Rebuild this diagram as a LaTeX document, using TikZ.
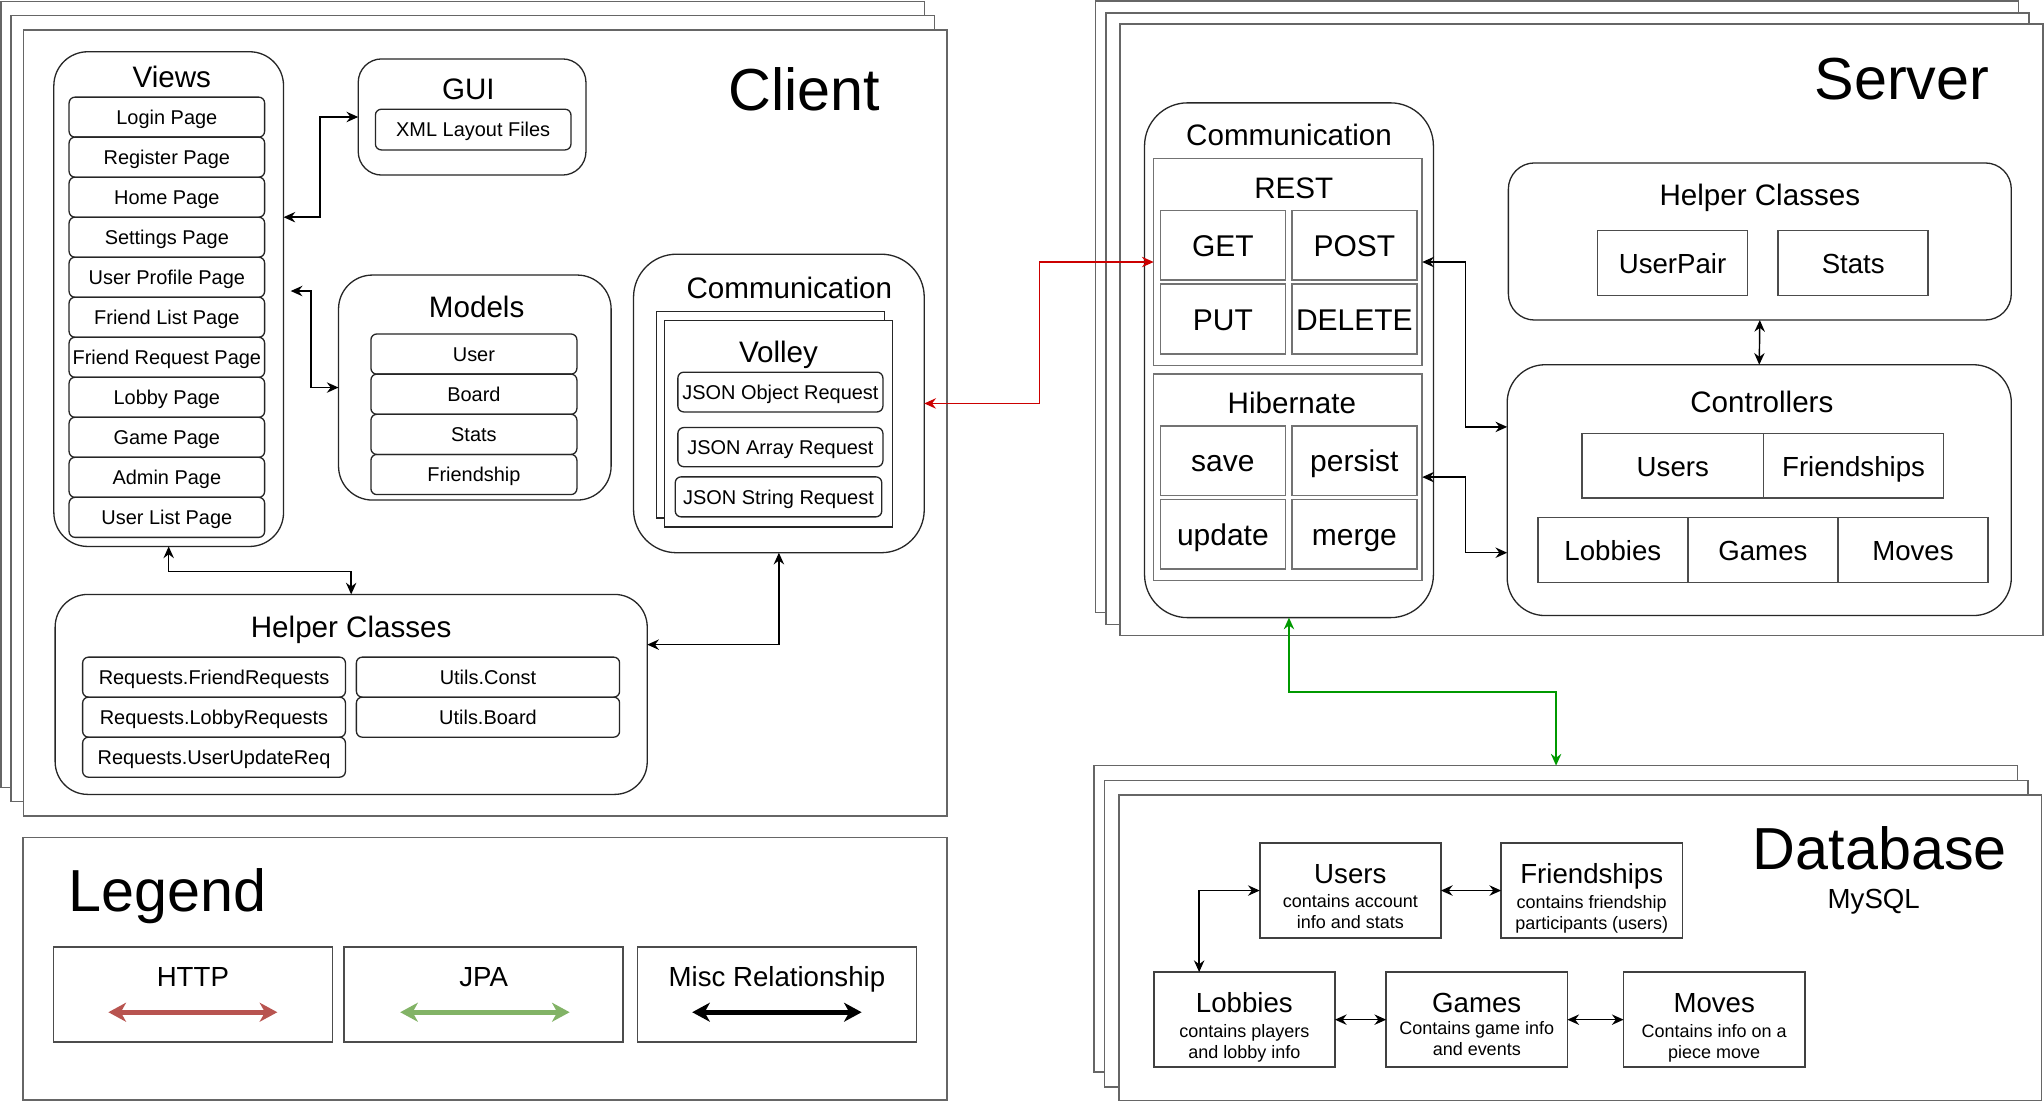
\documentclass[tikz,border=0pt]{standalone}
\usepackage{fontspec}
\setmainfont{Liberation Sans}
\usetikzlibrary{arrows.meta,positioning}
\definecolor{httpred}{HTML}{CC0000}
\definecolor{jpagreen}{HTML}{009900}
\definecolor{keyred}{HTML}{B85450}
\definecolor{keygreen}{HTML}{82B366}

\begin{document}
\begin{tikzpicture}[x=1pt,y=-1pt,every node/.style={outer sep=0pt},
 stackpage/.style={draw=black!60,line width=1.2pt,fill=white,anchor=north west,inner sep=0pt},
 groupbox/.style={draw=black!85,line width=1pt,inner sep=0pt},
 graybox/.style={draw=black!55,line width=1.2pt,inner sep=0pt},
 pagebox/.style={draw=black!85,line width=1pt,rounded corners=4.5pt,inner sep=1pt,
  minimum width=150pt,minimum height=30.7pt,text height=11.1pt,text depth=0pt,
  font=\fontsize{15.3}{18}\selectfont},
 cellbox/.style={draw=black!55,line width=1.2pt,inner sep=1pt,text height=16.8pt,
  text depth=0pt,font=\fontsize{23}{27}\selectfont},
 ctrlcell/.style={draw=black!70,line width=1.2pt,inner sep=1pt,text height=15.5pt,
  text depth=0pt,font=\fontsize{21.2}{25}\selectfont},
 dbbox/.style={draw=black!75,line width=1.2pt,inner sep=0pt,minimum width=139pt,minimum height=73pt},
 keybox/.style={draw=black!70,line width=1pt,inner sep=0pt,minimum width=214pt,minimum height=72.8pt},
 headline/.style={anchor=base,inner sep=0pt,font=\fontsize{22.7}{27}\selectfont},
 subline/.style={anchor=base,inner sep=0pt,font=\fontsize{21.2}{25}\selectfont},
 bigtitle/.style={anchor=base,inner sep=0pt,font=\fontsize{45.5}{54}\selectfont},
 notetext/.style={anchor=base,inner sep=0pt,align=center,font=\fontsize{13.8}{16.3}\selectfont},
 linktip/.tip={Stealth[length=9pt,width=8pt,inset=3pt]},
 keytip/.tip={Stealth[length=13.5pt,width=14.5pt,inset=4pt]},
 misclink/.style={linktip-linktip,line width=1.1pt},
 httplink/.style={linktip-linktip,line width=1.1pt,draw=httpred},
 jpalink/.style={linktip-linktip,line width=1.1pt,draw=jpagreen}]

\useasboundingbox (0,0) rectangle (1568,845.4);

% stacked pages
\node[stackpage,minimum width=708.5pt,minimum height=603pt] (clientback) at (0.6,1) {};
\node[stackpage,minimum width=708.5pt,minimum height=603pt] (clientmid) at (8.5,12) {};
\node[stackpage,minimum width=708.5pt,minimum height=603pt] (client) at (18,23) {};
\node[stackpage,minimum width=708pt,minimum height=469pt] (serverback) at (840.5,0.8) {};
\node[stackpage,minimum width=708pt,minimum height=469pt] (servermid) at (848.5,10) {};
\node[stackpage,minimum width=708pt,minimum height=469pt] (server) at (859,18.5) {};
\node[stackpage,minimum width=708.5pt,minimum height=235.2pt] (dbback) at (839.3,587.3) {};
\node[stackpage,minimum width=708.2pt,minimum height=235.2pt] (dbmid) at (847.3,598.8) {};
\node[stackpage,minimum width=707.7pt,minimum height=234.4pt] (db) at (858.3,609.8) {};
\node[stackpage,minimum width=708.8pt,minimum height=201.6pt] (legend) at (17.8,642.4) {};

\node[bigtitle] (clientlabel) at (617,85) {Client};
\node[bigtitle] (serverlabel) at (1459,76.3) {Server};
\node[bigtitle] (dblabel) at (1442,667.3) {Database};
\node[subline] (mysql) at (1437.4,697.2) {MySQL};
\node[bigtitle,anchor=base west] (legendlabel) at (52.5,699.2) {Legend};

% client
\node[groupbox,rounded corners=26pt,minimum width=176.2pt,minimum height=379.5pt] (views) at (129.4,229.45) {};
\node[headline] at ([xshift=2.4pt,yshift=-27.4pt]views.north) {Views};
\node[pagebox] (login) at (128,89.86) {Login Page};
\node[pagebox,below=0pt of login] (register) {Register Page};
\node[pagebox,below=0pt of register] (home) {Home Page};
\node[pagebox,below=0pt of home] (settings) {Settings Page};
\node[pagebox,below=0pt of settings] (profile) {User Profile Page};
\node[pagebox,below=0pt of profile] (friendlist) {Friend List Page};
\node[pagebox,below=0pt of friendlist] (friendreq) {Friend Request Page};
\node[pagebox,below=0pt of friendreq] (lobby) {Lobby Page};
\node[pagebox,below=0pt of lobby] (game) {Game Page};
\node[pagebox,below=0pt of game] (admin) {Admin Page};
\node[pagebox,below=0pt of admin] (userlist) {User List Page};

\node[groupbox,rounded corners=18pt,minimum width=174.7pt,minimum height=89.1pt] (gui) at (362.15,89.75) {};
\node[headline] at ([xshift=-2.9pt,yshift=-31.5pt]gui.north) {GUI};
\node[pagebox,minimum height=31.2pt] (xml) at (363,99.4) {XML Layout Files};

\node[groupbox,rounded corners=26pt,minimum width=209.1pt,minimum height=172.6pt] (models) at (364.25,297.3) {};
\node[headline] at ([xshift=1.4pt,yshift=-32.9pt]models.north) {Models};
\node[pagebox,minimum width=158pt,minimum height=30.8pt] (muser) at (363.55,271.6) {User};
\node[pagebox,minimum width=158pt,minimum height=30.8pt,below=0pt of muser] (mboard) {Board};
\node[pagebox,minimum width=158pt,minimum height=30.8pt,below=0pt of mboard] (mstats) {Stats};
\node[pagebox,minimum width=158pt,minimum height=30.8pt,below=0pt of mstats] (mfriend) {Friendship};

\node[groupbox,rounded corners=33pt,minimum width=223pt,minimum height=229pt] (ccomm) at (597.5,309.5) {};
\node[headline] at ([xshift=8pt,yshift=-33.8pt]ccomm.north) {Communication};
\node[groupbox,fill=white,minimum width=175.2pt,minimum height=158.3pt] (volleyback) at (591.1,318.15) {};
\node[groupbox,fill=white,minimum width=175.2pt,minimum height=158.4pt] (volley) at (597.2,325) {};
\node[headline] at ([yshift=-32.2pt]volley.north) {Volley};
\node[pagebox,minimum width=157.3pt,minimum height=30.5pt] (jsonobj) at (598.65,300.75) {JSON Object Request};
\node[pagebox,minimum width=157.3pt,minimum height=30pt] (jsonarr) at (598.65,343) {JSON Array Request};
\node[pagebox,minimum width=158.4pt,minimum height=30.7pt] (jsonstr) at (597.2,381.15) {JSON String Request};

\node[groupbox,rounded corners=25pt,minimum width=454.2pt,minimum height=153.4pt] (chelper) at (269.4,532.7) {};
\node[headline] at ([yshift=-32.9pt]chelper.north) {Helper Classes};
\node[pagebox,minimum width=201.6pt] (friendreqs) at (164.2,519.45) {Requests.FriendRequests};
\node[pagebox,minimum width=201.6pt,below=0pt of friendreqs] (lobbyreqs) {Requests.LobbyRequests};
\node[pagebox,minimum width=201.6pt,below=0pt of lobbyreqs] (userreq) {Requests.UserUpdateReq};
\node[pagebox,minimum width=201.9pt] (uconst) at (374.35,519.45) {Utils.Const};
\node[pagebox,minimum width=201.9pt,below=0pt of uconst] (uboard) {Utils.Board};

% server
\node[groupbox,rounded corners=33pt,minimum width=221.6pt,minimum height=394.9pt] (scomm) at (988.8,276.35) {};
\node[headline] at ([yshift=-32.4pt]scomm.north) {Communication};
\node[graybox,minimum width=206pt,minimum height=159pt] (rest) at (988,201) {};
\node[headline] at ([xshift=4.5pt,yshift=-30.5pt]rest.north) {REST};
\node[cellbox,minimum width=95.8pt,minimum height=53.5pt] (get) at (938.1,188.25) {GET};
\node[cellbox,minimum width=95.9pt,minimum height=53.5pt] (post) at (1038.95,188.25) {POST};
\node[cellbox,minimum width=95.8pt,minimum height=53.6pt] (put) at (938.1,244.8) {PUT};
\node[cellbox,minimum width=95.9pt,minimum height=53.6pt] (delete) at (1038.95,244.8) {DELETE};
\node[graybox,minimum width=206pt,minimum height=158.4pt] (hib) at (988,366) {};
\node[headline] at ([xshift=3pt,yshift=-30.2pt]hib.north) {Hibernate};
\node[cellbox,minimum width=95.8pt,minimum height=53.4pt] (save) at (938.1,353.3) {save};
\node[cellbox,minimum width=95.9pt,minimum height=53.4pt] (persist) at (1038.95,353.3) {persist};
\node[cellbox,minimum width=95.8pt,minimum height=53.1pt] (update) at (938.1,409.75) {update};
\node[cellbox,minimum width=95.9pt,minimum height=53.1pt] (merge) at (1038.95,409.75) {merge};

\node[groupbox,rounded corners=20pt,minimum width=385.8pt,minimum height=120.5pt] (shelper) at (1350,185.25) {};
\node[headline] at ([yshift=-32.4pt]shelper.north) {Helper Classes};
\node[ctrlcell,minimum width=115.1pt,minimum height=49.9pt] (userpair) at (1283.05,201.75) {UserPair};
\node[ctrlcell,minimum width=115.1pt,minimum height=49.9pt] (sstats) at (1421.65,201.75) {Stats};

\node[groupbox,rounded corners=29pt,minimum width=386.7pt,minimum height=192.4pt] (ctrl) at (1349.55,376) {};
\node[headline] at ([xshift=2pt,yshift=-36.6pt]ctrl.north) {Controllers};
\node[ctrlcell,minimum width=139.1pt,minimum height=49.6pt] (cusers) at (1283.25,357.4) {Users};
\node[ctrlcell,minimum width=138.2pt,minimum height=49.6pt,right=0pt of cusers] (cfriends) {Friendships};
\node[ctrlcell,minimum width=115.1pt,minimum height=49.9pt] (clobbies) at (1237.25,421.85) {Lobbies};
\node[ctrlcell,minimum width=115.1pt,minimum height=49.9pt,right=0pt of clobbies] (cgames) {Games};
\node[ctrlcell,minimum width=115.1pt,minimum height=49.9pt,right=0pt of cgames] (cmoves) {Moves};

% database
\node[dbbox] (dbusers) at (1035.85,683.15) {};
\node[subline] at ([yshift=5.6pt]dbusers.center) {Users};
\node[notetext] at ([yshift=-29.4pt]dbusers.center) {contains account\\info and stats};
\node[dbbox] (dbfriend) at (1221.05,683.15) {};
\node[subline] at ([yshift=5.6pt]dbfriend.center) {Friendships};
\node[notetext] at ([yshift=-30.2pt]dbfriend.center) {contains friendship\\participants (users)};
\node[dbbox] (dblobbies) at (954.55,782.2) {};
\node[subline] at ([yshift=5.6pt]dblobbies.center) {Lobbies};
\node[notetext] at ([yshift=-30pt]dblobbies.center) {contains players\\and lobby info};
\node[dbbox] (dbgames) at (1132.85,782.2) {};
\node[subline] at ([yshift=5.6pt]dbgames.center) {Games};
\node[notetext] at ([yshift=-27.8pt]dbgames.center) {Contains game info\\and events};
\node[dbbox] (dbmoves) at (1315,782.2) {};
\node[subline] at ([yshift=5.6pt]dbmoves.center) {Moves};
\node[notetext] at ([yshift=-30pt]dbmoves.center) {Contains info on a\\piece move};

% legend
\node[keybox,minimum width=214.1pt] (keyhttp) at (147.95,762.9) {};
\node[subline] at ([yshift=-30.3pt]keyhttp.north) {HTTP};
\draw[keytip-keytip,line width=3.6pt,keyred] ([xshift=-64.8pt,yshift=-13.6pt]keyhttp.center) -- ([xshift=64.8pt,yshift=-13.6pt]keyhttp.center);
\node[keybox] (keyjpa) at (371,762.9) {};
\node[subline] at ([yshift=-30.3pt]keyjpa.north) {JPA};
\draw[keytip-keytip,line width=3.6pt,keygreen] ([xshift=-64pt,yshift=-13.6pt]keyjpa.center) -- ([xshift=66pt,yshift=-13.6pt]keyjpa.center);
\node[keybox] (keymisc) at (596,762.9) {};
\node[subline] at ([yshift=-30.3pt]keymisc.north) {Misc Relationship};
\draw[keytip-keytip,line width=3.6pt,black] ([xshift=-65pt,yshift=-13.6pt]keymisc.center) -- ([xshift=65pt,yshift=-13.6pt]keymisc.center);

% connectors
\coordinate (httpbend) at (797.2,0);
\coordinate (jpabend) at (1193.7,531);
\draw[misclink] (views.east |- settings.north) -- ++(28,0) |- (gui.west);
\draw[misclink] ([xshift=5.5pt,yshift=6.2pt]views.east) -- ++(15.6,0) |- (models.west);
\draw[misclink] (views.south) -- ++(0,19) -| (chelper.north);
\draw[misclink] (ccomm.south) |- ([yshift=38.2pt]chelper.east);
\draw[httplink] (ccomm.east) -- (ccomm.east -| httpbend) |- (rest.west);
\draw[jpalink] (scomm.south) |- (jpabend) -- (jpabend |- dbback.north);
\draw[misclink] (rest.east) -- ++(33,0) |- ([yshift=48.5pt]ctrl.west);
\draw[misclink] (hib.east) -- ++(33,0) |- ([yshift=-48pt]ctrl.west);
\draw[misclink] (shelper.south) -- (ctrl.north);
\draw[misclink] (dbusers.east) -- (dbfriend.west);
\draw[misclink] (dbusers.west) -| ([xshift=-34.65pt]dblobbies.north);
\draw[misclink] (dblobbies.east) -- (dbgames.west);
\draw[misclink] (dbgames.east) -- (dbmoves.west);

\end{tikzpicture}
\end{document}
